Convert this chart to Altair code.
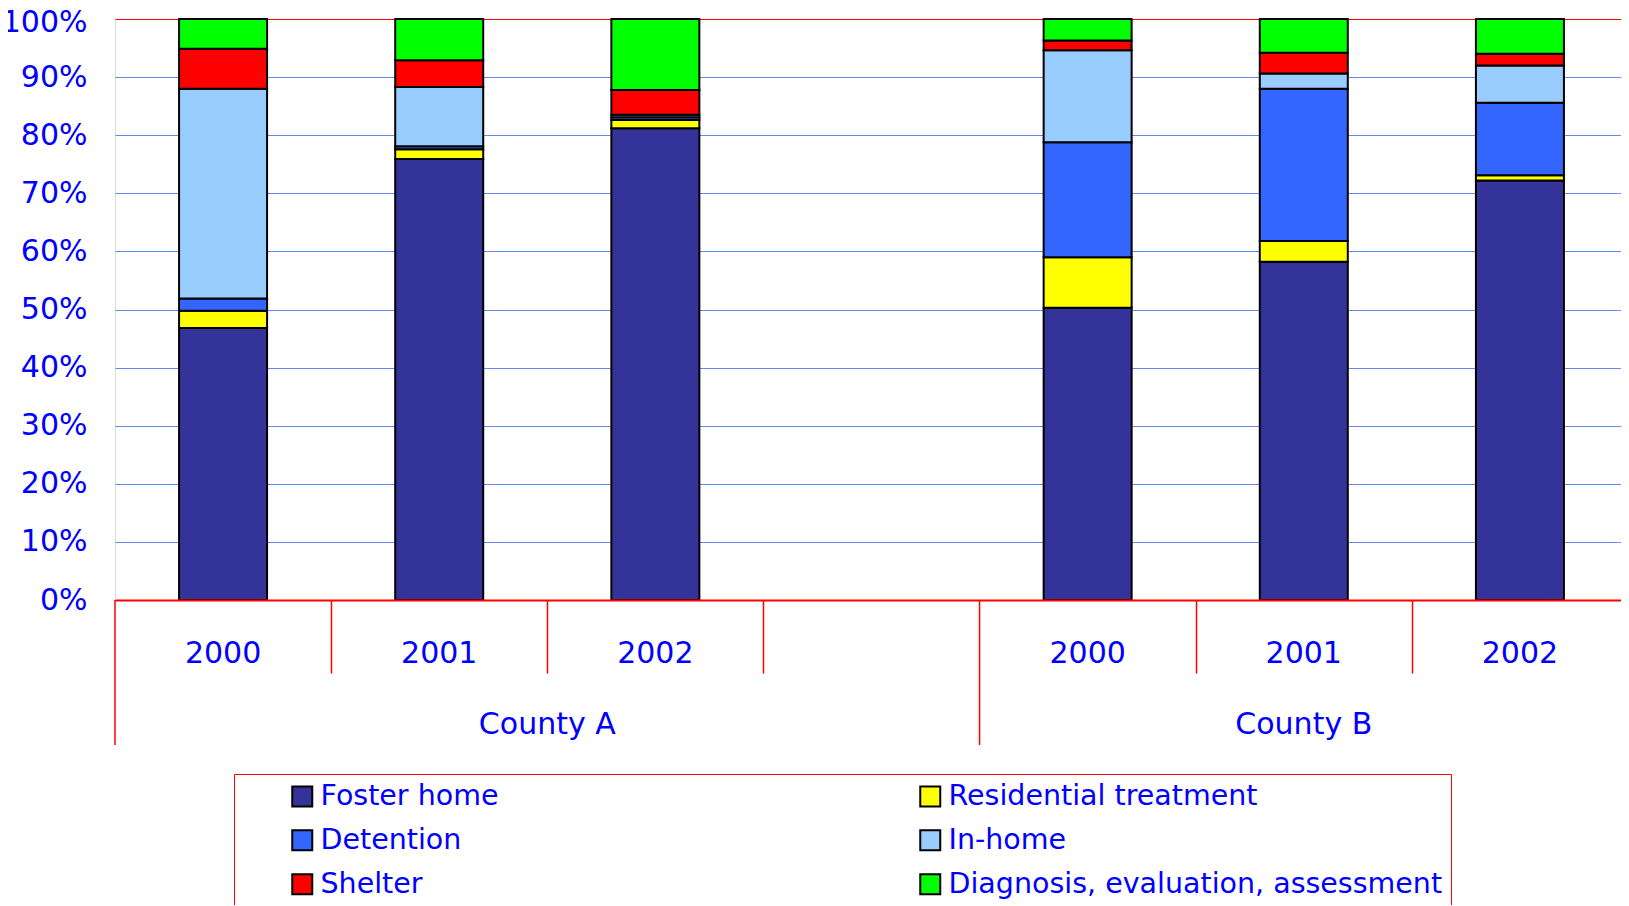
import altair as alt
import pandas as pd

# ---- data (percent shares) ----
categories = ["Foster home", "Residential treatment", "Detention", "In-home",
              "Shelter", "Diagnosis, evaluation, assessment"]
colors = ["#333399", "#FFFF00", "#3366FF", "#99CCFF", "#FF0000", "#00FF00"]
counties = ["County A", "County B"]
years = ["2000", "2001", "2002"]

county_a_2000 = [46.8, 3.0, 2.1, 36.1, 6.9, 5.1]
county_a_2001 = [75.9, 1.7, 0.5, 10.2, 4.6, 7.1]
county_a_2002 = [81.2, 1.4, 0.5, 0.4, 4.3, 12.2]
county_b_2000 = [50.3, 8.7, 19.8, 15.8, 1.7, 3.7]
county_b_2001 = [58.2, 3.6, 26.2, 2.6, 3.6, 5.8]
county_b_2002 = [72.2, 0.9, 12.5, 6.4, 2.0, 6.0]

series = {
    "County A": [county_a_2000, county_a_2001, county_a_2002],
    "County B": [county_b_2000, county_b_2001, county_b_2002],
}

# category slots: each county gets one slot per year, plus an empty slot between counties
rows, year_rows, county_rows, long_bounds, short_bounds = [], [], [], [], []
start = 0
for gi, county in enumerate(counties):
    nslots = len(years) + (1 if gi < len(counties) - 1 else 0)
    long_bounds.append(start)
    for yi, year in enumerate(years):
        slot = start + yi + 0.5
        year_rows.append({"slot": slot, "year": year})
        for ci, cat in enumerate(categories):
            rows.append({"county": county, "year": year, "slot": slot,
                         "category": cat, "idx": ci, "value": series[county][yi][ci]})
    for k in range(1, nslots):
        short_bounds.append(start + k)
    county_rows.append({"center": start + nslots / 2, "county": county})
    start += nslots
long_bounds.append(start)
total_slots = start

df = pd.DataFrame(rows)
ydf = pd.DataFrame(year_rows)
cdf = pd.DataFrame(county_rows)
ldf = pd.DataFrame({"b": long_bounds})

W, H = 1513, 581
FONT = "DejaVu Sans"
BLUE = "#0000FF"

xscale = alt.Scale(domain=[0, total_slots], nice=False, zero=False, padding=0)

bars = alt.Chart(df).mark_bar(size=88, stroke="black", strokeWidth=2).encode(
    x=alt.X("slot:Q", scale=xscale,
            axis=alt.Axis(values=short_bounds, labels=False, title=None, grid=False,
                          tickColor="red", tickSize=73, tickWidth=1.5,
                          domainColor="red", domainWidth=2, zindex=1)),
    y=alt.Y("value:Q", stack="normalize", scale=alt.Scale(domain=[0, 1]),
            axis=alt.Axis(format=".0%", values=[i / 10 for i in range(11)], title=None,
                          domain=False, ticks=False, labelPadding=28,
                          labelFont=FONT, labelFontSize=30, labelColor=BLUE,
                          labelOffset={"condition": {"test": "datum.value >= 1", "value": 3},
                                       "value": 0},
                          gridColor={"condition": {"test": "datum.value >= 1", "value": "red"},
                                     "value": "#6688ee"},
                          gridWidth=1)),
    color=alt.Color("category:N",
                    scale=alt.Scale(domain=categories, range=colors),
                    legend=alt.Legend(orient="none", legendX=119, legendY=755,
                                      direction="horizontal",
                                      title=None, columns=2, gridAlign="all",
                                      columnPadding=55, rowPadding=15,
                                      symbolType="square", symbolSize=400,
                                      symbolStrokeColor="black", symbolStrokeWidth=2,
                                      symbolOffset=46, labelOffset=4,
                                      labelFont=FONT, labelFontSize=28.5, labelColor=BLUE,
                                      labelLimit=900, padding=8, strokeColor="red")),
    order=alt.Order("idx:Q", sort="ascending"),
)

long_rules = alt.Chart(ldf).mark_rule(color="red", strokeWidth=1.5).encode(
    x=alt.X("b:Q", scale=xscale),
    y=alt.value(H),
    y2=alt.value(H + 145),
)

year_text = alt.Chart(ydf).mark_text(font=FONT, fontSize=30, color=BLUE,
                                     baseline="alphabetic", align="center").encode(
    x=alt.X("slot:Q", scale=xscale),
    y=alt.value(H + 63),
    text="year:N",
)

county_text = alt.Chart(cdf).mark_text(font=FONT, fontSize=30, color=BLUE,
                                       baseline="alphabetic", align="center").encode(
    x=alt.X("center:Q", scale=xscale),
    y=alt.value(H + 134),
    text="county:N",
)

chart = alt.layer(bars, long_rules, year_text, county_text).properties(
    width=W, height=H,
    padding={"left": 107, "top": 11, "right": -7, "bottom": 305},
    autosize="none",
).configure_view(stroke="red", strokeWidth=2).configure(background="white")

chart.save("out.html", embed_options={"renderer": "svg", "actions": False})
